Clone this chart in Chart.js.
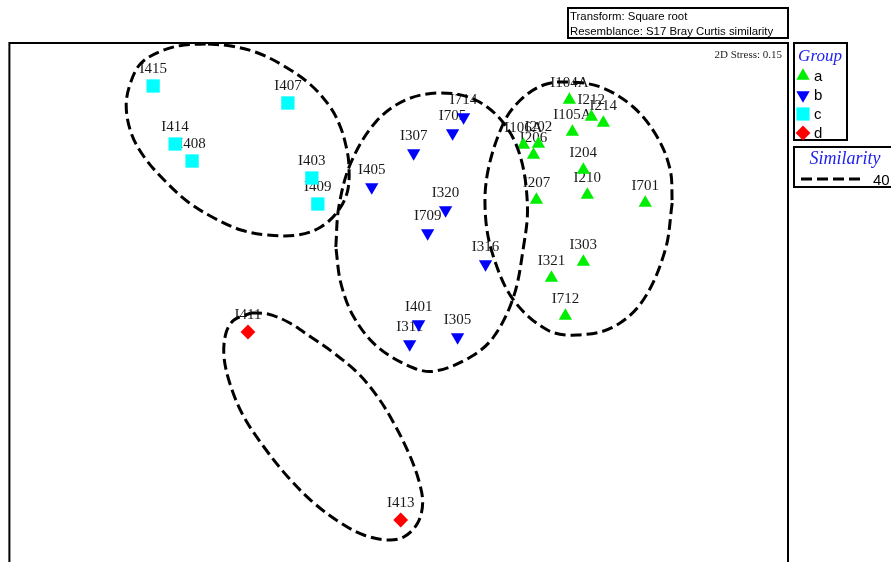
<!DOCTYPE html>
<html>
<head>
<meta charset="utf-8">
<script src="https://cdn.jsdelivr.net/npm/chart.js@4.4.0/dist/chart.umd.min.js"></script>
<style>
  html, body { margin: 0; padding: 0; background: #fff; overflow: hidden; }
  #wrap { width: 891px; height: 620px; }
</style>
</head>
<body>
<div id="wrap"><canvas id="mds" width="891" height="620"></canvas></div>
<script>
// nMDS ordination, sample labels per group
const namesA = ['I104A', 'I212', 'I214', 'I105A', 'I106A', 'I202', 'I206', 'I204', 'I210', 'I207', 'I701', 'I303', 'I321', 'I712'];
const mds1A = [1.69, 1.91, 2.03, 1.72, 1.23, 1.38, 1.33, 1.83, 1.87, 1.36, 2.45, 1.83, 1.51, 1.65];
const mds2A = [2.00, 1.83, 1.77, 1.68, 1.55, 1.56, 1.45, 1.30, 1.05, 1.00, 0.97, 0.38, 0.22, -0.16];

const namesB = ['I714', 'I705', 'I307', 'I405', 'I320', 'I709', 'I316', 'I401', 'I311', 'I305'];
const mds1B = [0.63, 0.52, 0.13, -0.29, 0.45, 0.27, 0.85, 0.18, 0.09, 0.57];
const mds2B = [1.83, 1.67, 1.47, 1.13, 0.90, 0.67, 0.36, -0.24, -0.44, -0.37];

const namesC = ['I415', 'I407', 'I414', 'I408', 'I403', 'I409'];
const mds1C = [-2.48, -1.13, -2.26, -2.09, -0.89, -0.83];
const mds2C = [2.14, 1.97, 1.56, 1.39, 1.22, 0.96];

const namesD = ['I411', 'I413'];
const mds1D = [-1.53, 0.00];
const mds2D = [-0.32, -2.20];

// similarity 40 contours (outline points)
const contourAx = [2.72, 2.65, 2.43, 2.13, 1.77, 1.47, 1.13, 0.93, 0.85, 0.87, 1.03, 1.20, 1.43, 1.67, 2.00, 2.33, 2.57, 2.70];
const contourAy = [0.97, 0.50, 0.00, -0.27, -0.35, -0.30, 0.00, 0.43, 0.83, 1.27, 1.77, 2.00, 2.15, 2.18, 2.13, 1.93, 1.63, 1.30];

const contourBx = [-0.65, -0.62, -0.50, -0.25, 0.05, 0.40, 0.75, 1.03, 1.20, 1.27, 1.23, 1.13, 0.93, 0.70, 0.35, 0.13, -0.23, -0.47, -0.60];
const contourBy = [0.53, 0.93, 1.37, 1.78, 2.00, 2.07, 2.00, 1.77, 1.43, 0.93, 0.53, 0.03, -0.37, -0.57, -0.71, -0.68, -0.47, -0.17, 0.17];

const contourCx = [-1.93, -1.70, -1.43, -1.17, -0.90, -0.70, -0.60, -0.55, -0.52, -0.53, -0.62, -0.80, -1.03, -1.33, -1.60, -1.87, -2.13, -2.37, -2.57, -2.70, -2.75, -2.70, -2.60, -2.40, -2.17];
const contourCy = [2.56, 2.54, 2.47, 2.34, 2.15, 1.92, 1.72, 1.55, 1.37, 1.10, 0.90, 0.73, 0.65, 0.65, 0.70, 0.82, 0.98, 1.20, 1.43, 1.67, 1.95, 2.19, 2.37, 2.49, 2.55];

const contourDx = [-1.50, -1.33, -1.13, -0.90, -0.67, -0.43, -0.23, -0.07, 0.08, 0.18, 0.22, 0.17, 0.03, -0.13, -0.37, -0.60, -0.87, -1.13, -1.37, -1.57, -1.70, -1.77, -1.75, -1.67];
const contourDy = [-0.13, -0.14, -0.22, -0.37, -0.53, -0.73, -0.97, -1.23, -1.53, -1.80, -2.03, -2.23, -2.37, -2.40, -2.35, -2.23, -2.03, -1.77, -1.47, -1.17, -0.87, -0.57, -0.33, -0.20];

const groupLabels = ['a', 'b', 'c', 'd'];
const groupColors = ['#00ee00', '#0000ff', '#00ffff', '#ff0000'];
const similarityLevel = '40';

function toPoints(xs, ys) {
    return xs.map((x, i) => ({x: x, y: ys[i]}));
}

function closed(xs, ys) {
    let pts = toPoints(xs, ys);
    pts.push({...pts[0]});
    return pts;
}

const markerStyles = [
    {pointStyle: 'triangle', radius: 7.7, rotation: 0},
    {pointStyle: 'triangle', radius: 7.7, rotation: 180},
    {pointStyle: 'rect', radius: 9.4, rotation: 0},
    {pointStyle: 'rectRot', radius: 7.4, rotation: 0},
];

function groupSet(i, names, xs, ys) {
    let st = markerStyles[i];
    return {
        label: groupLabels[i],
        names: names,
        data: toPoints(xs, ys),
        pointStyle: st.pointStyle,
        pointRadius: st.radius,
        pointRotation: st.rotation,
        pointBackgroundColor: groupColors[i],
        pointBorderWidth: 0,
        pointHoverRadius: st.radius,
        order: 2,
    };
}

function contourSet(xs, ys) {
    return {
        label: 'contour',
        data: closed(xs, ys),
        showLine: true,
        pointRadius: 0,
        pointHoverRadius: 0,
        borderColor: '#000',
        borderWidth: 3,
        borderDash: [11, 5],
        tension: 0.35,
        fill: false,
        order: 1,
    };
}

// sample names, drawn before the markers so markers sit on top
const sampleLabels = {
    id: 'sampleLabels',
    beforeDatasetsDraw(chart) {
        const ctx = chart.ctx;
        ctx.save();
        ctx.font = '15px "Liberation Serif", "Times New Roman", serif';
        ctx.fillStyle = '#1a1a1a';
        ctx.textAlign = 'center';
        ctx.textBaseline = 'alphabetic';
        chart.data.datasets.forEach((ds, di) => {
            if (!ds.names) return;
            const meta = chart.getDatasetMeta(di);
            meta.data.forEach((pt, i) => {
                ctx.fillText(ds.names[i], pt.x, pt.y - 13);
            });
        });
        ctx.restore();
    }
};

function marker(ctx, style, color, x, y) {
    ctx.fillStyle = color;
    ctx.beginPath();
    if (style === 0 || style === 1) {
        const r = 7.7, s = style === 0 ? 1 : -1;
        ctx.moveTo(x, y - s * r);
        ctx.lineTo(x + r * Math.sqrt(3) / 2, y + s * r / 2);
        ctx.lineTo(x - r * Math.sqrt(3) / 2, y + s * r / 2);
    } else if (style === 2) {
        ctx.rect(x - 6.6, y - 6.6, 13.2, 13.2);
    } else {
        const r = 7.4;
        ctx.moveTo(x, y - r);
        ctx.lineTo(x + r, y);
        ctx.lineTo(x, y + r);
        ctx.lineTo(x - r, y);
    }
    ctx.closePath();
    ctx.fill();
}

// frame, stress note, info box and the two legend boxes
const decorations = {
    id: 'decorations',
    afterDraw(chart) {
        const ctx = chart.ctx;
        const a = chart.chartArea;
        ctx.save();
        ctx.strokeStyle = '#000';
        ctx.lineWidth = 2;
        ctx.strokeRect(a.left, a.top, a.right - a.left, a.bottom - a.top);

        ctx.fillStyle = '#222';
        ctx.font = '11px "Liberation Serif", "Times New Roman", serif';
        ctx.textAlign = 'right';
        ctx.textBaseline = 'alphabetic';
        ctx.fillText('2D Stress: 0.15', a.right - 6, a.top + 15);

        // transform box
        ctx.strokeRect(568, 8, 220, 30);
        ctx.fillStyle = '#000';
        ctx.textAlign = 'left';
        ctx.font = '11.4px "Liberation Sans", Arial, sans-serif';
        ctx.fillText('Transform: Square root', 570, 20);
        ctx.fillText('Resemblance: S17 Bray Curtis similarity', 570, 35);

        // group legend
        ctx.strokeRect(794, 43, 53, 97);
        ctx.fillStyle = '#2020ee';
        ctx.font = 'italic 17px "Liberation Serif", "Times New Roman", serif';
        ctx.textAlign = 'center';
        ctx.fillText('Group', 820, 61);
        ctx.textAlign = 'left';
        ctx.font = '15px "Liberation Sans", Arial, sans-serif';
        groupLabels.forEach((g, i) => {
            const yy = 76 + i * 19;
            marker(ctx, i, groupColors[i], 803, yy);
            ctx.fillStyle = '#000';
            ctx.fillText(g, 814, yy + 5);
        });

        // similarity legend
        ctx.strokeStyle = '#000';
        ctx.lineWidth = 2;
        ctx.strokeRect(794, 147, 100, 40);
        ctx.fillStyle = '#2020ee';
        ctx.font = 'italic 18px "Liberation Serif", "Times New Roman", serif';
        ctx.textAlign = 'center';
        ctx.fillText('Similarity', 845, 164);
        ctx.beginPath();
        ctx.setLineDash([11, 5]);
        ctx.lineWidth = 3;
        ctx.moveTo(801, 179);
        ctx.lineTo(864, 179);
        ctx.stroke();
        ctx.setLineDash([]);
        ctx.fillStyle = '#000';
        ctx.textAlign = 'left';
        ctx.font = '15px "Liberation Sans", Arial, sans-serif';
        ctx.fillText(similarityLevel, 873, 185);
        ctx.restore();
    }
};

const chart = new Chart(document.getElementById('mds').getContext('2d'), {
    type: 'scatter',
    data: {
        datasets: [
            groupSet(0, namesA, mds1A, mds2A),
            groupSet(1, namesB, mds1B, mds2B),
            groupSet(2, namesC, mds1C, mds2C),
            groupSet(3, namesD, mds1D, mds2D),
            contourSet(contourAx, contourAy),
            contourSet(contourBx, contourBy),
            contourSet(contourCx, contourCy),
            contourSet(contourDx, contourDy),
        ],
    },
    options: {
        responsive: false,
        animation: false,
        devicePixelRatio: 1,
        layout: {padding: {left: 8, top: 43, right: 103, bottom: 20}},
        scales: {
            x: {type: 'linear', min: -3.92, max: 3.88, display: false},
            y: {type: 'linear', min: -3.00, max: 2.57, display: false},
        },
        plugins: {
            legend: {display: false},
            tooltip: {enabled: false},
        },
        clip: false,
    },
    plugins: [sampleLabels, decorations],
});
</script>
</body>
</html>
